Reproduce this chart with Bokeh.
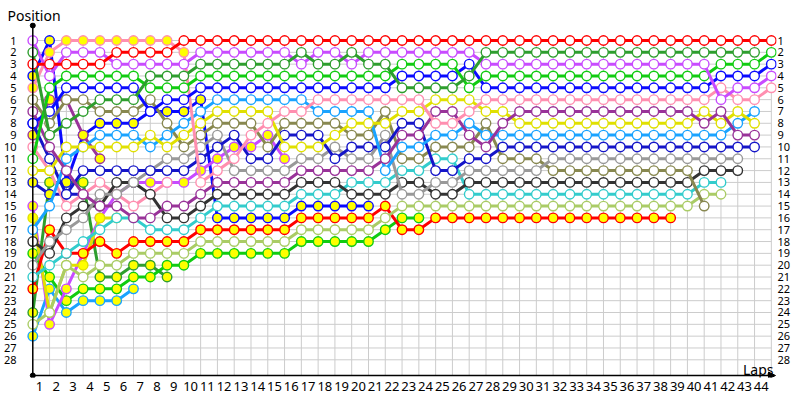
from bokeh.plotting import figure
from bokeh.models import Range1d, FixedTicker, Label, Arrow, NormalHead, LinearAxis
from bokeh.embed import file_html
from bokeh.resources import INLINE

N = None
laps = list(range(45))
lap_ticks = list(range(1, 45))
pos_ticks = list(range(1, 29))

# positions per lap (lap 0 .. 44); None = not running
red_a = [3,3,3,3,3,2,2,2,2,1, 1,1,1,1,1,1,1,1,1,1, 1,1,1,1,1,1,1,1,1,1, 1,1,1,1,1,1,1,1,1,1, 1,1,1,1,1]
violet_a = [1,4,2,2,2,3,3,3,3,3, 2,2,2,2,2,2,3,2,2,3, 2,2,2,2,2,2,2,3,3,3, 3,3,3,3,3,3,3,3,3,3, 3,6,5,5,4]
dgreen_a = [2,9,8,7,6,6,6,4,4,4, 3,3,3,3,3,3,2,3,3,2, 3,3,5,5,5,5,4,2,2,2, 2,2,2,2,2,2,2,2,2,2, 2,2,2,2,N]
green_a = [11,5,4,4,4,4,4,5,5,5, 4,4,4,4,4,4,4,4,4,4, 4,4,3,3,3,3,5,4,4,4, 4,4,4,4,4,4,4,4,4,4, 4,3,3,3,2]
blue_a = [8,7,5,5,5,5,5,7,6,6, 5,5,5,5,5,5,5,5,5,5, 5,5,4,4,4,4,3,5,5,5, 5,5,5,5,5,5,5,5,5,5, 5,4,4,4,3]
pink_a = [5,2,1,1,1,1,1,1,1,2, 13,12,11,9,8,7,7,6,6,6, 6,6,6,6,8,8,7,6,6,6, 6,6,6,6,6,6,6,6,6,6, 6,5,6,6,5]
dpurple_a = [7,10,12,14,15,15,16,16,15,15, 14,13,13,13,13,13,12,12,12,12, 12,11,9,9,7,7,9,10,8,7, 7,7,7,7,7,7,7,7,7,7, 8,7,9,9,N]
yellow_a = [12,12,10,10,10,10,10,9,10,9, 8,7,7,7,7,10,10,10,9,8, 8,8,7,7,6,6,6,7,7,8, 8,8,8,8,8,8,8,8,8,8, 7,8,7,8,N]
lblue_a = [17,15,11,10,9,9,9,10,9,8, 7,6,6,6,6,6,6,7,7,7, 7,12,10,10,9,9,8,9,9,9, 9,9,9,9,9,9,9,9,9,9, 9,9,8,7,N]
navy_a = [8,11,14,12,12,12,12,12,12,12, 11,10,9,11,11,9,9,9,11,10, 10,10,8,8,12,12,11,11,10,10, 10,10,10,10,10,10,10,10,10,10, 10,10,10,10,N]
gray_a = [20,18,17,16,14,14,13,12,11,11, 10,9,12,12,12,12,11,11,10,11, 11,9,14,14,13,13,12,12,12,12, 12,11,11,11,11,11,11,11,11,11, 11,11,11,N,N]
olive_a = [6,8,6,6,7,7,7,6,8,10, 9,8,8,8,10,8,8,8,8,9, 9,7,11,11,10,10,10,8,11,11, 11,12,12,12,12,12,12,12,12,12, 15,N,N,N,N]
dgray_a = [18,19,16,15,15,13,13,14,16,16, 15,14,14,14,14,14,13,13,13,14, 14,14,13,13,14,14,13,13,13,13, 13,13,13,13,13,13,13,13,13,13, 12,12,12,N,N]
cyan_a = [21,20,19,18,17,16,16,17,17,17, 16,15,15,15,15,15,14,14,14,13, 13,13,12,12,11,11,14,14,14,14, 14,14,14,14,14,14,14,14,14,14, 13,13,N,N,N]
lolive_a = [25,24,20,21,20,20,19,19,19,19, 18,18,18,18,18,18,17,17,17,17, 17,16,15,15,15,15,15,15,15,15, 15,15,15,15,15,15,15,15,15,15, 14,14,N,N,N]
red_b = [22,17,19,19,18,19,18,18,18,18, 17,17,17,17,17,17,16,16,16,16, 16,15,17,17,16,16,16,16,16,16, 16,16,16,16,16,16,16,16,16,N, N,N,N,N,N]
blue_b = [4,1,13,9,8,8,8,7,7,7, 6,16,16,16,16,16,15,15,15,15, 15,N,N,N,N,N,N,N,N,N, N,N,N,N,N,N,N,N,N,N, N,N,N,N,N]
green_b = [19,21,23,22,22,22,21,21,20,20, 19,19,19,19,19,19,18,18,18,18, 18,17,16,16,N,N,N,N,N,N, N,N,N,N,N,N,N,N,N,N, N,N,N,N,N]
dgreen_b = [24,13,13,13,21,21,20,20,21,N, N,N,N,N,N,N,N,N,N,N, N,N,N,N,N,N,N,N,N,N, N,N,N,N,N,N,N,N,N,N, N,N,N,N,N]
lblue_b = [26,22,24,23,23,23,22,N,N,N, N,N,N,N,N,N,N,N,N,N, N,N,N,N,N,N,N,N,N,N, N,N,N,N,N,N,N,N,N,N, N,N,N,N,N]
pink_b = [10,12,15,14,13,14,15,14,13,N, N,N,N,N,N,N,N,N,N,N, N,N,N,N,N,N,N,N,N,N, N,N,N,N,N,N,N,N,N,N, N,N,N,N,N]
violet_b = [15,25,22,19,16,14,13,13,13,13, 12,11,10,10,9,11,N,N,N,N, N,N,N,N,N,N,N,N,N,N, N,N,N,N,N,N,N,N,N,N, N,N,N,N,N]
dpurple_b = [9,6,6,9,11,N,N,N,N,N, N,N,N,N,N,N,N,N,N,N, N,N,N,N,N,N,N,N,N,N, N,N,N,N,N,N,N,N,N,N, N,N,N,N,N]
yellow_b = [16,24,20,20,16,16,N,N,N,N, N,N,N,N,N,N,N,N,N,N, N,N,N,N,N,N,N,N,N,N, N,N,N,N,N,N,N,N,N,N, N,N,N,N,N]
navy_b = [13,14,14,14,N,N,N,N,N,N, N,N,N,N,N,N,N,N,N,N, N,N,N,N,N,N,N,N,N,N, N,N,N,N,N,N,N,N,N,N, N,N,N,N,N]

# laps drawn with a yellow marker fill
yellow_laps = {
    "pink_a": [0,1,2,3,4,5,6,7,8,9],
    "red_b": list(range(0, 39)),
    "blue_b": list(range(0, 21)),
    "green_b": list(range(0, 24)),
    "dgreen_b": list(range(0, 9)),
    "lblue_b": list(range(0, 7)),
    "violet_b": list(range(0, 16)),
    "dpurple_b": list(range(0, 5)),
    "yellow_b": list(range(0, 6)),
    "navy_b": list(range(0, 4)),
}

drivers = [
    ("lblue_b", "#1AA3FF", lblue_b), ("dgreen_b", "#2E9E2E", dgreen_b),
    ("green_b", "#11CC11", green_b), ("blue_b", "#0A0AFF", blue_b),
    ("violet_b", "#C84BFF", violet_b), ("dpurple_b", "#993399", dpurple_b),
    ("yellow_b", "#E0E000", yellow_b), ("navy_b", "#1515C8", navy_b),
    ("pink_b", "#FF8FB0", pink_b),
    ("red_b", "#FF0000", red_b), ("lolive_a", "#AACC66", lolive_a),
    ("cyan_a", "#33CCCC", cyan_a), ("dgray_a", "#333333", dgray_a),
    ("olive_a", "#888850", olive_a), ("gray_a", "#999999", gray_a),
    ("navy_a", "#1515C8", navy_a), ("lblue_a", "#1AA3FF", lblue_a),
    ("yellow_a", "#E0E000", yellow_a), ("dpurple_a", "#993399", dpurple_a),
    ("pink_a", "#FF8FB0", pink_a), ("blue_a", "#0A0AFF", blue_a),
    ("green_a", "#11CC11", green_a), ("violet_a", "#C84BFF", violet_a),
    ("dgreen_a", "#2E9E2E", dgreen_a), ("red_a", "#FF0000", red_a),
]

# pixel geometry of the reference, used only to set the ranges
X0, DX = 30.3, 16.83
Y0, DY = 40.0, 11.826
def lap_at(px):
    return (px - X0) / DX
def pos_at(py):
    return 1 + (py - Y0) / DY

FL, FR, FT, FB = 24, 776, 22, 377   # frame edges on the page
p = figure(width=800, height=400,
           x_range=Range1d(lap_at(FL), lap_at(FR)),
           y_range=Range1d(pos_at(FB), pos_at(FT)),
           output_backend="svg", toolbar_location=None,
           min_border_left=FL, min_border_right=800 - FR,
           min_border_top=FT, min_border_bottom=400 - FB)
p.outline_line_color = None
p.xgrid.visible = False
p.ygrid.visible = False

FONT = "Noto Sans"
p.title.text = "Position"
p.title.text_font = FONT
p.title.text_font_size = "14px"
p.title.text_font_style = "normal"
p.title.text_color = "black"
p.title.align = "left"
p.title.offset = -19
p.title.standoff = -4

# bottom lap labels (between grid lines)
xax = p.xaxis[0]
xax.ticker = FixedTicker(ticks=[t - 0.6 for t in lap_ticks])
xax.major_label_overrides = {t - 0.6: str(t) for t in lap_ticks}
xax.axis_line_color = None
xax.major_tick_line_color = None
xax.minor_tick_line_color = None
xax.major_tick_out = 0
xax.major_tick_in = 0
xax.minor_tick_out = 0
xax.minor_tick_in = 0
xax.major_label_standoff = 4
xax.major_label_text_font = FONT
xax.major_label_text_font_size = "13px"
xax.major_label_text_color = "#000000"

yax = p.yaxis[0]
yax.ticker = FixedTicker(ticks=pos_ticks)
right = LinearAxis(ticker=FixedTicker(ticks=pos_ticks))
p.add_layout(right, "right")
for ax in [yax, right]:
    ax.axis_line_color = None
    ax.major_tick_line_color = None
    ax.minor_tick_line_color = None
    ax.major_tick_out = 0
    ax.major_tick_in = 0
    ax.minor_tick_out = 0
    ax.minor_tick_in = 0
    ax.major_label_text_font = FONT
    ax.major_label_text_font_size = "11px"
    ax.major_label_text_color = "#000000"
yax.major_label_standoff = 10
yax.major_label_text_align = "left"
right.major_label_standoff = 1

# grid
p.segment(x0=lap_ticks, y0=[0.7] * len(lap_ticks), x1=lap_ticks,
          y1=[pos_at(375)] * len(lap_ticks), line_color="#CCCCCC", line_width=1)
p.segment(x0=[0] * len(pos_ticks), y0=pos_ticks, x1=[44] * len(pos_ticks),
          y1=pos_ticks, line_color="#CCCCCC", line_width=1)

# axis lines
p.add_layout(Arrow(end=NormalHead(size=7, fill_color="black", line_color="black"),
                   x_start=0, y_start=pos_at(375), x_end=lap_at(775), y_end=pos_at(375),
                   line_color="black", line_width=1.5))
p.add_layout(Arrow(end=None, x_start=0, y_start=pos_at(375), x_end=0, y_end=pos_at(25),
                   line_color="black", line_width=1.5))
p.scatter(x=[0, 0], y=[pos_at(25), pos_at(375)], size=5, color="black")

nan = float("nan")
for name, color, pos in drivers:
    ys = [nan if v is None else v for v in pos]
    p.line(laps, ys, line_color=color, line_width=3)
    yl = set(yellow_laps.get(name, []))
    xs = [l for l, v in zip(laps, pos) if v is not None]
    yv = [v for v in pos if v is not None]
    fills = ["#FFFF00" if l in yl else "#FFFFFF" for l in xs]
    p.scatter(xs, yv, size=9.5, fill_color=fills, line_color=color, line_width=1.4)

p.add_layout(Label(x=lap_at(773), y=pos_at(369), text="Laps", text_font=FONT,
                   text_font_size="14px", text_color="black", text_align="right",
                   text_baseline="alphabetic"))

open("out.html", "w").write(file_html(p, INLINE))
